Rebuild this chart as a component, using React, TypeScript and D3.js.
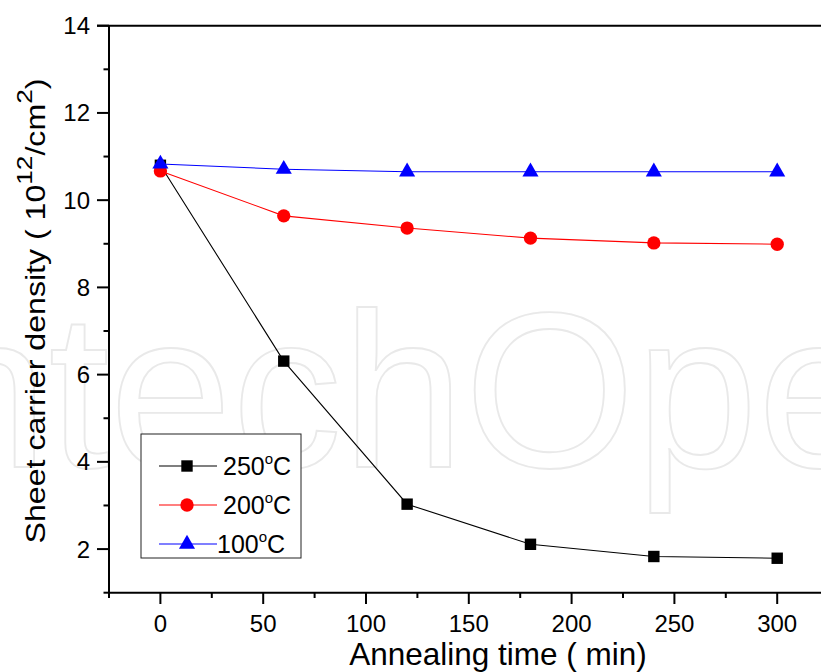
import { useRef, useEffect } from "react";
import * as d3 from "d3";

// annealing time in minutes
const times = [0, 60, 120, 180, 240, 300];
// sheet carrier density (10^12 / cm^2) for each annealing temperature
const density250 = [10.8, 6.31, 3.03, 2.11, 1.83, 1.79];
const density200 = [10.67, 9.64, 9.36, 9.13, 9.02, 8.99];
const density100 = [10.83, 10.71, 10.65, 10.65, 10.65, 10.65];

const seriesNames = ["250", "200", "100"];
const xMajorTicks = [0, 50, 100, 150, 200, 250, 300];
const xMinorTicks = [-25, 25, 75, 125, 175, 225, 275, 325];
const yMajorTicks = [2, 4, 6, 8, 10, 12, 14];
const yMinorTicks = [1, 3, 5, 7, 9, 11, 13];

export default function App() {
  const svgRef = useRef<SVGSVGElement>(null);

  useEffect(() => {
    document.body.style.margin = "0";
    const svg = d3.select(svgRef.current);
    svg.selectAll("*").remove();
    const font = "Arial, 'Liberation Sans', sans-serif";

    const x = d3.scaleLinear().domain([-25, 325]).range([109, 828.6]);
    const y = d3.scaleLinear().domain([1, 14]).range([592.7, 25.7]);

    // faint watermark behind the plot
    svg
      .append("text")
      .attr("x", -135)
      .attr("y", 467)
      .attr("font-family", font)
      .attr("font-size", 220)
      .attr("fill", "none")
      .attr("stroke", "#e9e9e9")
      .attr("stroke-width", 1.8)
      .text("IntechOpen");

    const series = [
      { name: seriesNames[0], values: density250, color: "#000000", shape: d3.symbolSquare, size: 130 },
      { name: seriesNames[1], values: density200, color: "#ff0000", shape: d3.symbolCircle, size: 140 },
      { name: seriesNames[2], values: density100, color: "#0000ff", shape: d3.symbolTriangle, size: 112 },
    ];

    const line = d3
      .line<number>()
      .x((_, i) => x(times[i]))
      .y((d) => y(d));

    series.forEach((s) => {
      svg
        .append("path")
        .attr("d", line(s.values))
        .attr("fill", "none")
        .attr("stroke", s.color)
        .attr("stroke-width", 1.1);
      svg
        .selectAll(null)
        .data(s.values)
        .join("path")
        .attr("transform", (d, i) => `translate(${x(times[i])},${y(d)})`)
        .attr("d", d3.symbol().type(s.shape).size(s.size)())
        .attr("fill", s.color);
    });

    // axes
    const ax = svg.append("g").attr("stroke", "#000");
    ax.append("line").attr("x1", 109).attr("x2", 109).attr("y1", 25.7).attr("y2", 593.7).attr("stroke-width", 2);
    ax.append("line").attr("x1", 108).attr("x2", 821).attr("y1", 592.7).attr("y2", 592.7).attr("stroke-width", 2);
    ax.append("line").attr("x1", 97).attr("x2", 821).attr("y1", 25.7).attr("y2", 25.7).attr("stroke-width", 2);

    xMajorTicks.forEach((t) => {
      ax.append("line").attr("x1", x(t)).attr("x2", x(t)).attr("y1", 592.7).attr("y2", 604).attr("stroke-width", 2);
    });
    xMinorTicks.forEach((t) => {
      ax.append("line").attr("x1", x(t)).attr("x2", x(t)).attr("y1", 592.7).attr("y2", 598).attr("stroke-width", 2);
    });
    yMajorTicks.forEach((t) => {
      ax.append("line").attr("x1", 97).attr("x2", 109).attr("y1", y(t)).attr("y2", y(t)).attr("stroke-width", 2);
    });
    yMinorTicks.forEach((t) => {
      ax.append("line").attr("x1", 103.5).attr("x2", 109).attr("y1", y(t)).attr("y2", y(t)).attr("stroke-width", 2);
    });

    svg
      .selectAll(null)
      .data(xMajorTicks)
      .join("text")
      .attr("x", (d) => x(d))
      .attr("y", 632)
      .attr("text-anchor", "middle")
      .attr("font-family", font)
      .attr("font-size", 24)
      .text((d) => d);

    svg
      .selectAll(null)
      .data(yMajorTicks)
      .join("text")
      .attr("x", 90)
      .attr("y", (d) => y(d) + 8.5)
      .attr("text-anchor", "end")
      .attr("font-family", font)
      .attr("font-size", 24)
      .text((d) => d);

    // axis titles
    svg
      .append("text")
      .attr("x", 498)
      .attr("y", 665)
      .attr("text-anchor", "middle")
      .attr("font-family", font)
      .attr("font-size", 31.5)
      .text("Annealing time ( min)");

    // the y title is a bit stretched along its length in the original
    const yt = svg
      .append("text")
      .attr("transform", "translate(45,311) rotate(-90) scale(1.19,1)")
      .attr("text-anchor", "middle")
      .attr("font-family", font)
      .attr("font-size", 27);
    yt.append("tspan").text("Sheet carrier density ( 10");
    yt.append("tspan").attr("dy", -13).attr("font-size", 22).text("12");
    yt.append("tspan").attr("dy", 13).text("/cm");
    yt.append("tspan").attr("dy", -13).attr("font-size", 22).text("2");
    yt.append("tspan").attr("dy", 13).text(")");

    // legend
    const lg = svg.append("g");
    lg.append("rect")
      .attr("x", 141)
      .attr("y", 434)
      .attr("width", 160)
      .attr("height", 124)
      .attr("fill", "white")
      .attr("stroke", "#222")
      .attr("stroke-width", 1);
    series.forEach((s, i) => {
      const cy = 466 + i * 39;
      lg.append("line").attr("x1", 159).attr("x2", 217).attr("y1", cy).attr("y2", cy).attr("stroke", s.color).attr("stroke-width", 1.1);
      lg.append("path")
        .attr("transform", `translate(187,${cy})`)
        .attr("d", d3.symbol().type(s.shape).size(s.size)())
        .attr("fill", s.color);
      const tx = lg
        .append("text")
        .attr("x", i === 2 ? 217 : 223)
        .attr("y", cy + 9)
        .attr("font-family", font)
        .attr("font-size", 25);
      tx.append("tspan").text(s.name);
      tx.append("tspan").attr("dy", -11).attr("font-size", 15).text("o");
      tx.append("tspan").attr("dy", 11).text("C");
    });
  }, []);

  return <svg ref={svgRef} width={821} height={672} style={{ display: "block", background: "white" }} />;
}
